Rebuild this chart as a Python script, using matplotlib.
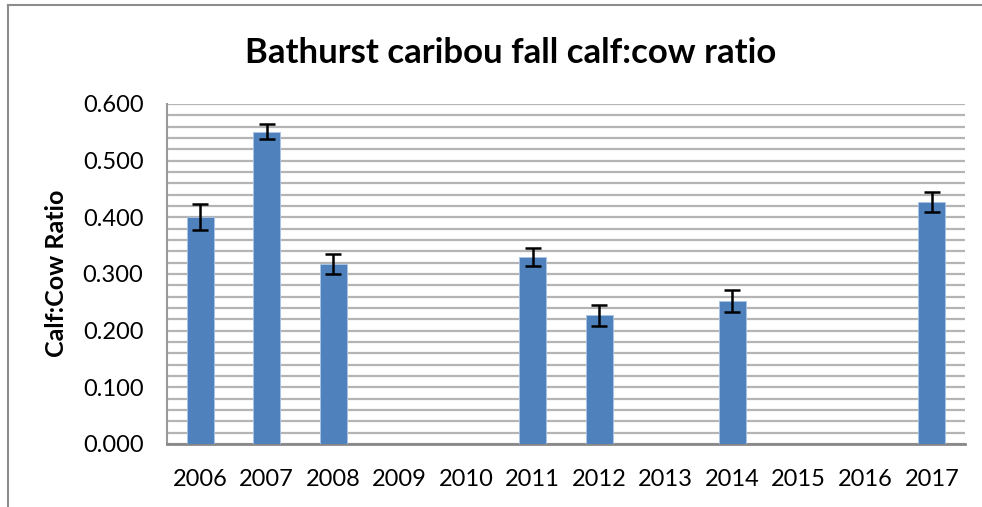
import matplotlib
matplotlib.use("Agg")
import matplotlib.pyplot as plt
import numpy as np
from matplotlib.ticker import MultipleLocator, FormatStrFormatter
from matplotlib.lines import Line2D

years = ["2006", "2007", "2008", "2009", "2010", "2011", "2012", "2013", "2014", "2015", "2016", "2017"]
ratio = [0.401, 0.551, 0.318, np.nan, np.nan, 0.330, 0.227, np.nan, 0.252, np.nan, np.nan, 0.427]
err = [0.023, 0.013, 0.018, np.nan, np.nan, 0.016, 0.019, np.nan, 0.019, np.nan, np.nan, 0.018]

plt.rcParams['font.family'] = ['Lato', 'DejaVu Sans']

W, H = 982, 507
fig = plt.figure(figsize=(W / 100, H / 100), dpi=100)
ax = fig.add_axes([167 / W, 1 - 444 / H, (965 - 167) / W, (444 - 104) / H])

x = np.arange(len(years))
ax.bar(x, ratio, width=0.4, color="#4f81bd", edgecolor="#a9c4e6", linewidth=0.6, zorder=3)
ax.errorbar(x, ratio, yerr=err, fmt="none", ecolor="black", elinewidth=1.8,
            capsize=6, capthick=1.8, zorder=4)

ax.set_xlim(-0.5, len(years) - 0.5)
ax.set_ylim(0, 0.6)
ax.yaxis.set_major_locator(MultipleLocator(0.1))
ax.yaxis.set_minor_locator(MultipleLocator(0.02))
ax.yaxis.set_major_formatter(FormatStrFormatter("%.3f"))
ax.set_xticks(x)
ax.set_xticklabels(years)
ax.grid(True, which="both", axis="y", color="#b4b4b4", linewidth=1.6, zorder=0)
ax.tick_params(axis="both", which="both", length=0, labelsize=17, colors="black")
ax.tick_params(axis="y", pad=17)
ax.tick_params(axis="x", pad=18)

for s in ["top", "right"]:
    ax.spines[s].set_visible(False)
ax.spines["left"].set_color("#999999")
ax.spines["left"].set_linewidth(1.5)
ax.spines["bottom"].set_color("#888888")
ax.spines["bottom"].set_linewidth(2)

fig.text(57 / W, 1 - 273 / H, "Calf:Cow Ratio", rotation=90, fontsize=18, fontweight="bold",
         ha="center", va="center")

fig.text(511 / W, 1 - 53 / H, "Bathurst caribou fall calf:cow ratio", fontsize=25,
         fontweight="bold", ha="center", va="center")

# chart frame
fig.add_artist(Line2D([8 / W, 8 / W], [0, 1 - 5 / H], transform=fig.transFigure,
                      color="#8c8c8c", linewidth=1.5))
fig.add_artist(Line2D([8 / W, 1], [1 - 5 / H, 1 - 5 / H], transform=fig.transFigure,
                      color="#8c8c8c", linewidth=1.5))

fig.savefig("out.png", dpi=100, facecolor="white")
